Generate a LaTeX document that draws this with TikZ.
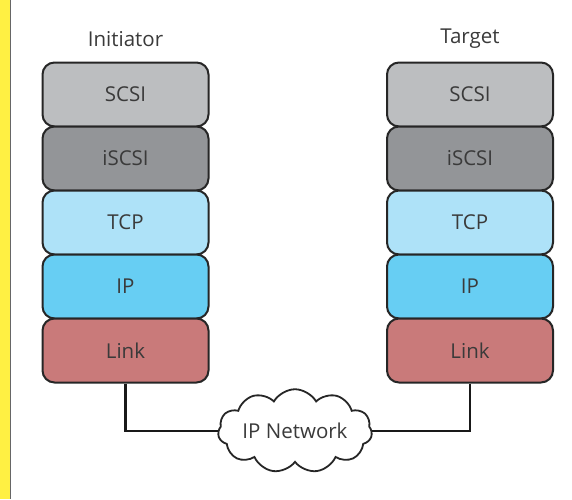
\documentclass[tikz,border=0pt]{standalone}
\usepackage{fontspec}
\setmainfont{Open Sans}
\usetikzlibrary{shapes.symbols}
\definecolor{sidebaryellow}{RGB}{255,240,67}
\definecolor{cscsi}{RGB}{188,190,192}
\definecolor{ciscsi}{RGB}{147,149,152}
\definecolor{ctcp}{RGB}{174,226,248}
\definecolor{cip}{RGB}{103,206,243}
\definecolor{clink}{RGB}{201,122,122}
\definecolor{txt}{RGB}{58,58,58}
\begin{document}
\begin{tikzpicture}[x=1pt,y=-1pt,
  layer/.style={draw=black!85,line width=2pt,rounded corners=12pt,minimum width=166pt,minimum height=64pt,inner sep=0pt,
    font=\fontsize{20.5}{24}\selectfont,text=txt},
  title/.style={font=\fontsize{20.5}{24}\selectfont,text=txt},
  wire/.style={draw=black!90,line width=2.5pt}]
\fill[white] (0,0) rectangle (572,499);
\useasboundingbox (0,0) rectangle (572,499);
\fill[fill=sidebaryellow] (0,0) rectangle (9.5,499);
\fill[fill=black!60] (9.5,0) rectangle (11,499);
\node[title] (ti) at (125.5,39) {Initiator};
\node[title] (tt) at (470,39) {Target};
\foreach \side/\x in {l/125.5,r/470}{
  \node[layer,fill=cscsi] (\side1) at (\x,94.5) {SCSI};
  \node[layer,fill=ciscsi] (\side2) at (\x,158.5) {iSCSI};
  \node[layer,fill=ctcp] (\side3) at (\x,222.5) {TCP};
  \node[layer,fill=cip] (\side4) at (\x,286.5) {IP};
  \node[layer,fill=clink] (\side5) at (\x,350.5) {Link};
}
\node[cloud,cloud puffs=11,cloud puff arc=120,draw=black!85,line width=1.8pt,fill=white,
  minimum width=154pt,minimum height=66pt,inner sep=0pt,aspect=2.4,
  font=\fontsize{20.5}{24}\selectfont,text=txt] (net) at (295,431) {IP Network};
\draw[wire] (l5.south) |- (net.west);
\draw[wire] (r5.south) |- (net.east);
\end{tikzpicture}
\end{document}
